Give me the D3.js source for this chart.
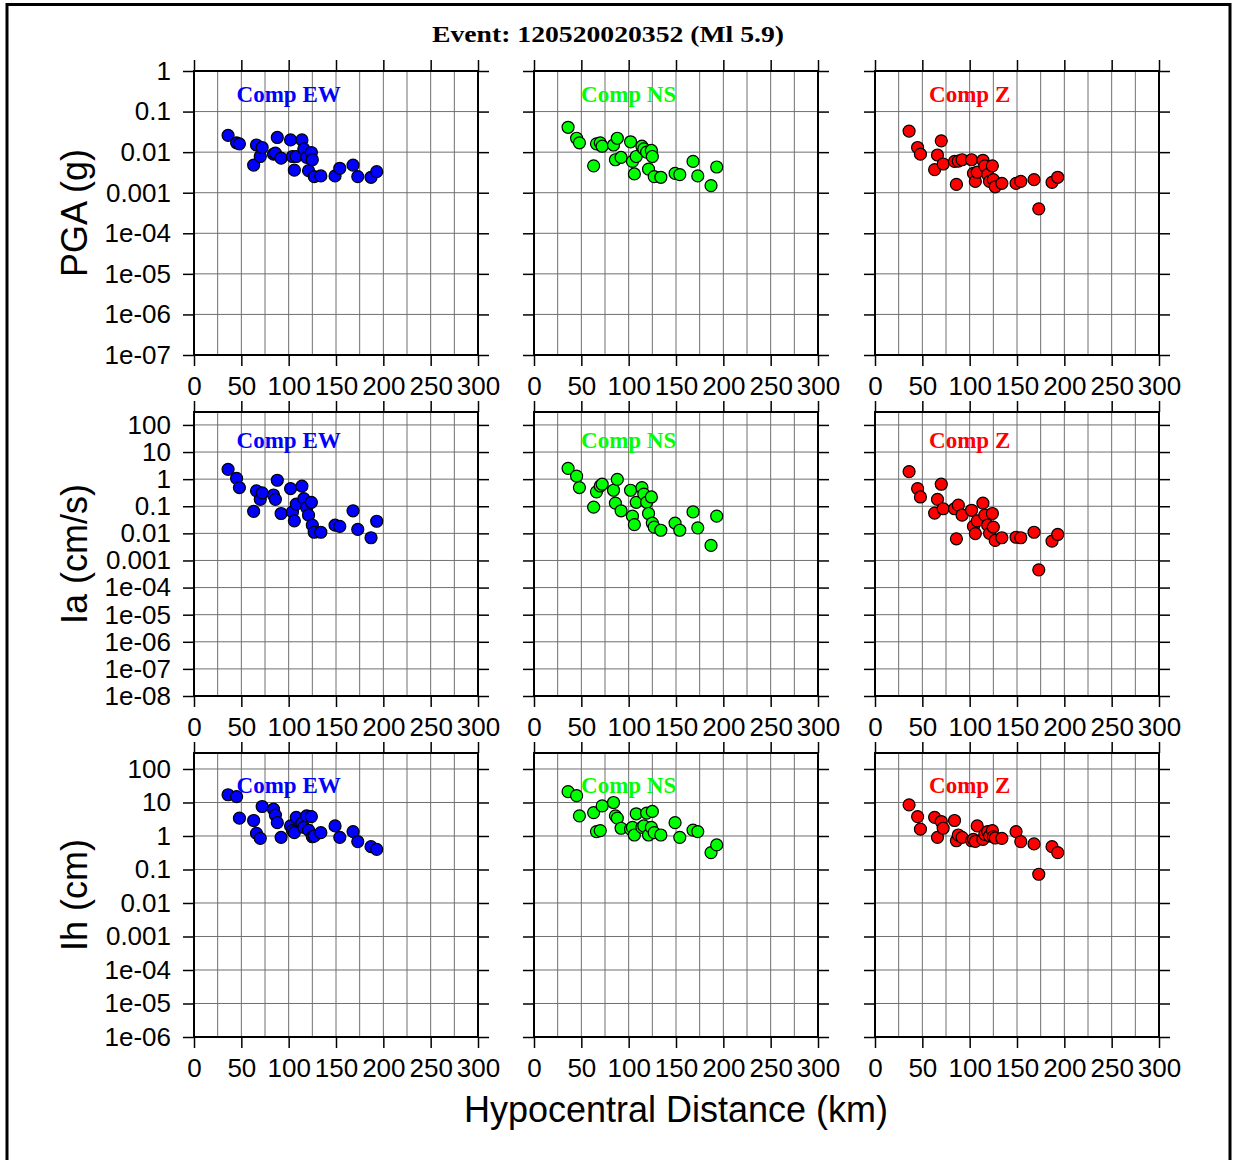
<!DOCTYPE html>
<html>
<head>
<meta charset="utf-8">
<script src="https://cdnjs.cloudflare.com/ajax/libs/d3/7.8.5/d3.min.js"></script>
<style>
  body { margin: 0; background: #fff; }
</style>
</head>
<body>
<div id="chart"></div>
<script>
// Hypocentral distance of each station (km), same for all panels
const dist = [36, 45, 48, 63, 66, 70, 72, 84, 86, 88, 92, 102, 104, 106, 108, 114, 116, 119, 121, 124, 125, 127, 134, 149, 154, 168, 173, 187, 193];

// PGA (g)
const pgaEW = [2.6e-2, 1.7e-2, 1.6e-2, 4.8e-3, 1.5e-2, 7.8e-3, 1.3e-2, 8.9e-3, 9.5e-3, 2.3e-2, 7.1e-3, 2.0e-2, 7.8e-3, 3.6e-3, 7.8e-3, 2.0e-2, 1.2e-2, 7.4e-3, 3.5e-3, 9.8e-3, 6.5e-3, 2.5e-3, 2.6e-3, 2.6e-3, 4.0e-3, 4.8e-3, 2.5e-3, 2.4e-3, 3.3e-3];
const pgaNS = [4.1e-2, 2.2e-2, 1.7e-2, 4.6e-3, 1.6e-2, 1.7e-2, 1.4e-2, 1.5e-2, 6.5e-3, 2.2e-2, 7.4e-3, 1.8e-2, 5.9e-3, 2.9e-3, 7.8e-3, 1.4e-2, 1.2e-2, 1.0e-2, 3.8e-3, 1.1e-2, 7.8e-3, 2.5e-3, 2.4e-3, 3.0e-3, 2.8e-3, 5.9e-3, 2.6e-3, 1.5e-3, 4.3e-3];
const pgaZ  = [3.3e-2, 1.3e-2, 8.9e-3, 3.7e-3, 8.5e-3, 1.9e-2, 5.1e-3, 5.9e-3, 1.6e-3, 6.0e-3, 6.5e-3, 6.5e-3, 3.0e-3, 1.9e-3, 3.2e-3, 6.3e-3, 4.6e-3, 2.8e-3, 1.9e-3, 4.6e-3, 2.1e-3, 1.4e-3, 1.7e-3, 1.7e-3, 1.9e-3, 2.1e-3, 4.0e-4, 1.8e-3, 2.4e-3];

// Arias intensity Ia (cm/s)
const iaEW = [2.3, 1.07, 0.49, 0.065, 0.37, 0.18, 0.31, 0.26, 0.18, 0.91, 0.054, 0.45, 0.062, 0.029, 0.12, 0.55, 0.19, 0.089, 0.047, 0.14, 0.020, 0.011, 0.011, 0.020, 0.018, 0.068, 0.014, 0.0069, 0.028];
const iaNS = [2.5, 1.3, 0.49, 0.093, 0.34, 0.56, 0.65, 0.39, 0.13, 0.98, 0.068, 0.39, 0.043, 0.021, 0.14, 0.49, 0.28, 0.14, 0.054, 0.22, 0.024, 0.017, 0.013, 0.024, 0.013, 0.062, 0.016, 0.0036, 0.043];
const iaZ  = [1.9, 0.45, 0.22, 0.056, 0.18, 0.65, 0.081, 0.081, 0.0063, 0.11, 0.047, 0.071, 0.018, 0.0098, 0.029, 0.13, 0.047, 0.020, 0.010, 0.054, 0.017, 0.0055, 0.0069, 0.0072, 0.0069, 0.011, 0.00045, 0.0052, 0.0091];

// Housner intensity Ih (cm)
const ihEW = [17, 15, 3.4, 2.9, 1.2, 0.85, 7.6, 6.3, 4.2, 2.5, 0.91, 2.0, 1.45, 1.26, 3.6, 2.4, 1.8, 4.0, 1.5, 3.8, 0.95, 1.0, 1.26, 2.0, 0.91, 1.35, 0.68, 0.48, 0.40];
const ihNS = [21, 16, 4.0, 5.0, 1.35, 1.45, 7.9, 10, 4.0, 3.4, 1.7, 1.6, 1.8, 1.07, 4.6, 1.8, 2.0, 4.8, 1.07, 1.8, 5.4, 1.26, 1.07, 2.5, 0.91, 1.5, 1.35, 0.32, 0.54];
const ihZ  = [8.5, 3.8, 1.6, 3.6, 0.91, 2.7, 1.7, 2.9, 0.72, 1.07, 0.91, 0.72, 0.79, 0.69, 2.0, 0.79, 1.12, 1.35, 1.0, 1.45, 0.95, 0.87, 0.85, 1.35, 0.68, 0.58, 0.072, 0.48, 0.32];

// Axis ticks
const xTicks = [0, 50, 100, 150, 200, 250, 300];
const xGrid = [25, 50, 75, 100, 125, 150, 175, 200, 225, 250, 275];
const pgaTicks = [1, 0.1, 0.01, 0.001, 1e-4, 1e-5, 1e-6, 1e-7];
const pgaLabels = ["1", "0.1", "0.01", "0.001", "1e-04", "1e-05", "1e-06", "1e-07"];
const iaTicks = [100, 10, 1, 0.1, 0.01, 0.001, 1e-4, 1e-5, 1e-6, 1e-7, 1e-8];
const iaLabels = ["100", "10", "1", "0.1", "0.01", "0.001", "1e-04", "1e-05", "1e-06", "1e-07", "1e-08"];
const ihTicks = [100, 10, 1, 0.1, 0.01, 0.001, 1e-4, 1e-5, 1e-6];
const ihLabels = ["100", "10", "1", "0.1", "0.01", "0.001", "1e-04", "1e-05", "1e-06"];

const comps = ["Comp EW", "Comp NS", "Comp Z"];
const compColors = ["#0000ff", "#00ff00", "#ff0000"];

const rows = [
  {title: "PGA (g)", domain: [1e-7, 1], ticks: pgaTicks, labels: pgaLabels, values: [pgaEW, pgaNS, pgaZ], labelY: 31},
  {title: "Ia (cm/s)", domain: [1e-8, 300], ticks: iaTicks, labels: iaLabels, values: [iaEW, iaNS, iaZ], labelY: 36},
  {title: "Ih (cm)", domain: [1e-6, 300], ticks: ihTicks, labels: ihLabels, values: [ihEW, ihNS, ihZ], labelY: 40}
];

const width = 1233, height = 1160;
const panelW = 284, panelH = 284;
const colLeft = [194, 534, 875];
const rowTop = [71, 412, 753];
const sans = "'Liberation Sans', Arial, Helvetica, sans-serif";
const serif = "'Liberation Serif', 'Times New Roman', serif";

const svg = d3.select("#chart")
  .append("svg")
    .attr("width", width)
    .attr("height", height);

// outer frame
svg.append("rect")
  .attr("x", 7).attr("y", 4.5)
  .attr("width", 1223).attr("height", 1175)
  .attr("fill", "none")
  .attr("stroke", "#000")
  .attr("stroke-width", 3);

// title
svg.append("text")
  .attr("x", 608).attr("y", 42)
  .attr("text-anchor", "middle")
  .attr("font-family", serif)
  .attr("font-weight", "bold")
  .attr("font-size", 24)
  .attr("textLength", 352)
  .attr("lengthAdjust", "spacingAndGlyphs")
  .text("Event: 120520020352 (Ml 5.9)");

rows.forEach((row, r) => {
  const y = d3.scaleLog().domain(row.domain).range([panelH, 0]);

  comps.forEach((comp, c) => {
    const x = d3.scaleLinear().domain([0, 300]).range([0, panelW]);
    const g = svg.append("g")
      .attr("transform", `translate(${colLeft[c]},${rowTop[r]})`);

    // grid
    g.selectAll(".vgrid")
      .data(xGrid)
      .enter().append("line")
        .attr("x1", d => x(d)).attr("x2", d => x(d))
        .attr("y1", 0).attr("y2", panelH)
        .attr("stroke", "#707070")
        .attr("stroke-width", 1);
    g.selectAll(".hgrid")
      .data(row.ticks)
      .enter().append("line")
        .attr("x1", 0).attr("x2", panelW)
        .attr("y1", d => y(d)).attr("y2", d => y(d))
        .attr("stroke", "#707070")
        .attr("stroke-width", 1);

    // axes
    const axisStyle = sel => {
      sel.select(".domain").remove();
      sel.selectAll(".tick line").attr("stroke", "#000").attr("stroke-width", 1.5);
      sel.selectAll("text")
        .attr("font-family", sans)
        .attr("font-size", 26)
        .attr("fill", "#000");
    };

    g.append("g")
      .attr("transform", `translate(0,${panelH})`)
      .call(d3.axisBottom(x).tickValues(xTicks).tickFormat(d3.format("d"))
        .tickSize(11).tickPadding(11))
      .call(axisStyle);
    g.append("g")
      .call(d3.axisTop(x).tickValues(xTicks).tickFormat("").tickSize(11))
      .call(axisStyle);
    // only the first column carries y labels
    g.append("g")
      .call(d3.axisLeft(y).tickValues(row.ticks)
        .tickFormat((d, i) => c === 0 ? row.labels[i] : "")
        .tickSize(11).tickPadding(12))
      .call(axisStyle);
    g.append("g")
      .attr("transform", `translate(${panelW},0)`)
      .call(d3.axisRight(y).tickValues(row.ticks).tickFormat("").tickSize(11))
      .call(axisStyle);

    // frame
    g.append("rect")
      .attr("width", panelW).attr("height", panelH)
      .attr("fill", "none")
      .attr("stroke", "#000")
      .attr("stroke-width", 2);

    // points
    const pts = dist.map((d, i) => ({dist: d, value: row.values[c][i]}));
    g.selectAll("circle")
      .data(pts)
      .enter().append("circle")
        .attr("cx", d => x(d.dist))
        .attr("cy", d => y(d.value))
        .attr("r", 6)
        .attr("fill", compColors[c])
        .attr("stroke", "#000")
        .attr("stroke-width", 1.2);

    // component label
    g.append("text")
      .attr("x", x(100))
      .attr("y", row.labelY)
      .attr("text-anchor", "middle")
      .attr("font-family", serif)
      .attr("font-weight", "bold")
      .attr("font-size", 23)
      .attr("fill", compColors[c])
      .text(comp);
  });

  // y title
  svg.append("text")
    .attr("transform", `translate(87,${rowTop[r] + panelH / 2})rotate(-90)`)
    .attr("text-anchor", "middle")
    .attr("font-family", sans)
    .attr("font-size", 36)
    .text(row.title);
});

// x title
svg.append("text")
  .attr("x", colLeft[1] + panelW / 2)
  .attr("y", 1122)
  .attr("text-anchor", "middle")
  .attr("font-family", sans)
  .attr("font-size", 36)
  .text("Hypocentral Distance (km)");
</script>
</body>
</html>
